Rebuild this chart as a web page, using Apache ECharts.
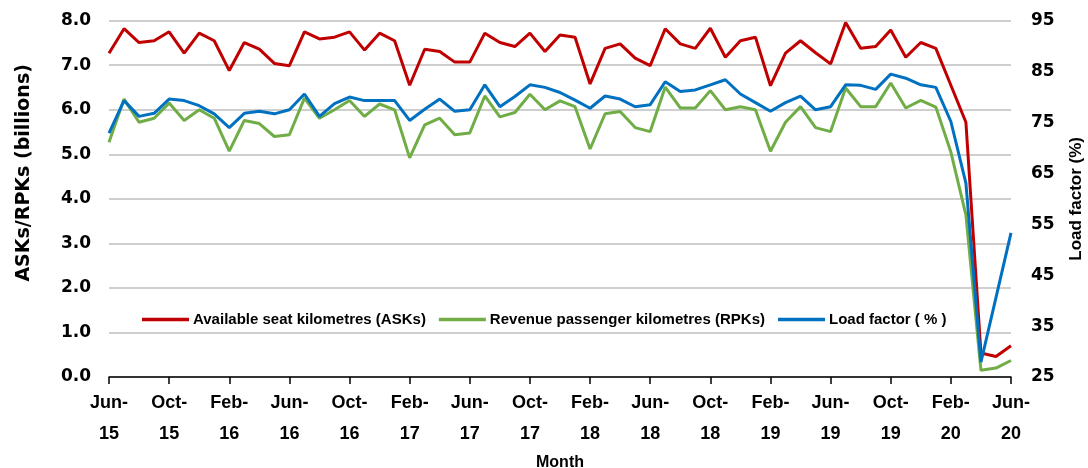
<!DOCTYPE html>
<html>
<head>
<meta charset="utf-8">
<script src="https://cdn.jsdelivr.net/npm/echarts@6/dist/echarts.min.js"></script>
<style>
html,body{margin:0;padding:0;background:#fff;}
#chart{width:1088px;height:468px;}
</style>
</head>
<body>
<div id="chart"></div>
<script>
const months = [
 "Jun-15","Jul-15","Aug-15","Sep-15","Oct-15","Nov-15","Dec-15","Jan-16",
 "Feb-16","Mar-16","Apr-16","May-16","Jun-16","Jul-16","Aug-16","Sep-16",
 "Oct-16","Nov-16","Dec-16","Jan-17","Feb-17","Mar-17","Apr-17","May-17",
 "Jun-17","Jul-17","Aug-17","Sep-17","Oct-17","Nov-17","Dec-17","Jan-18",
 "Feb-18","Mar-18","Apr-18","May-18","Jun-18","Jul-18","Aug-18","Sep-18",
 "Oct-18","Nov-18","Dec-18","Jan-19","Feb-19","Mar-19","Apr-19","May-19",
 "Jun-19","Jul-19","Aug-19","Sep-19","Oct-19","Nov-19","Dec-19","Jan-20",
 "Feb-20","Mar-20","Apr-20","May-20","Jun-20"
];
const asks = [
 7.27,7.82,7.51,7.55,7.75,7.27,7.72,7.55,6.88,7.51,7.36,7.04,6.99,7.75,7.59,7.63,
 7.75,7.34,7.72,7.55,6.55,7.36,7.31,7.07,7.07,7.72,7.51,7.42,7.72,7.31,7.68,7.63,
 6.58,7.38,7.48,7.16,6.99,7.82,7.48,7.38,7.83,7.18,7.55,7.63,6.54,7.27,7.55,7.28,
 7.03,7.96,7.38,7.42,7.79,7.18,7.51,7.38,6.55,5.72,0.54,0.46,0.70
];
const rpks = [
 5.27,6.24,5.72,5.81,6.15,5.76,6.00,5.81,5.07,5.76,5.69,5.40,5.44,6.26,5.81,6.00,
 6.21,5.85,6.13,6.00,4.92,5.66,5.81,5.44,5.48,6.31,5.84,5.94,6.35,6.00,6.20,6.07,
 5.12,5.91,5.96,5.60,5.51,6.51,6.04,6.04,6.43,6.00,6.07,6.00,5.07,5.72,6.07,5.60,
 5.51,6.49,6.07,6.07,6.60,6.04,6.21,6.06,5.05,3.64,0.15,0.20,0.37
];
const loadFactor = [
 72.9,79.3,76.2,76.8,79.6,79.3,78.3,76.7,74.0,76.8,77.2,76.7,77.5,80.6,76.2,78.7,
 80.0,79.3,79.3,79.3,75.4,77.6,79.6,77.2,77.5,82.4,78.1,80.1,82.4,81.9,80.9,79.4,
 77.8,80.2,79.6,78.1,78.5,83.0,81.1,81.4,82.4,83.4,80.6,78.9,77.2,78.9,80.2,77.5,
 78.1,82.4,82.3,81.5,84.5,83.7,82.4,81.9,75.2,63.1,27.9,40.6,53.3
];
const seriesNames = ["Available seat kilometres (ASKs)","Revenue passenger kilometres (RPKs)","Load factor ( % )"];
const seriesColors = ["#C00000","#70AD47","#0070C0"];

const chart = echarts.init(document.getElementById('chart'), null, {renderer:'canvas'});
const labelFont = {fontFamily:'Arial, "Liberation Sans", sans-serif', fontWeight:'bold', color:'#000'};
chart.setOption({
  animation:false,
  backgroundColor:'#fff',
  grid:{left:109, right:77, top:20.7, bottom:91, containLabel:false, outerBoundsMode:'none'},
  legend:{
    data:seriesNames,
    left:137, top:307,
    icon:'rect', itemWidth:47, itemHeight:3.5, itemGap:13,
    textStyle:Object.assign({fontSize:15, padding:[0,0,0,-1]}, labelFont)
  },
  xAxis:{
    type:'category', data:months, boundaryGap:false,
    name:'Month', nameLocation:'middle', nameGap:76,
    nameTextStyle:Object.assign({fontSize:16}, labelFont),
    axisLine:{lineStyle:{color:'#000', width:1.5}},
    axisTick:{interval:3, length:7, lineStyle:{color:'#000', width:1.5}},
    axisLabel:Object.assign({interval:3, fontSize:18, lineHeight:31, margin:11,
      formatter:v => v.replace('-', '-\n')}, labelFont),
    splitLine:{show:false}
  },
  yAxis:[{
    type:'value', min:0, max:8, interval:1,
    name:'ASKs/RPKs (billions)', nameLocation:'middle', nameGap:75,
    nameTextStyle:{fontFamily:'"DejaVu Sans", sans-serif', fontWeight:'bold', color:'#000', fontSize:19, padding:[0,0,0,52]},
    axisLine:{show:false}, axisTick:{show:false},
    axisLabel:{fontFamily:'"DejaVu Sans", sans-serif', fontWeight:'bold', color:'#000', fontSize:17, margin:18,
      formatter:v => v.toFixed(1)},
    splitLine:{lineStyle:{color:'#BFBFBF', width:1.5}}
  },{
    type:'value', min:25, max:95, interval:10, position:'right',
    name:'Load factor (%)', nameLocation:'middle', nameGap:57,
    nameTextStyle:Object.assign({fontSize:17}, labelFont),
    axisLine:{show:false}, axisTick:{show:false},
    axisLabel:{fontFamily:'"DejaVu Sans", sans-serif', fontWeight:'bold', color:'#000', fontSize:17, margin:20},
    splitLine:{show:false}
  }],
  series:[
    {name:seriesNames[0], type:'line', data:asks, yAxisIndex:0, showSymbol:false, symbol:'none',
     lineStyle:{color:seriesColors[0], width:3}, itemStyle:{color:seriesColors[0]}},
    {name:seriesNames[1], type:'line', data:rpks, yAxisIndex:0, showSymbol:false, symbol:'none',
     lineStyle:{color:seriesColors[1], width:3}, itemStyle:{color:seriesColors[1]}},
    {name:seriesNames[2], type:'line', data:loadFactor, yAxisIndex:1, showSymbol:false, symbol:'none',
     lineStyle:{color:seriesColors[2], width:3}, itemStyle:{color:seriesColors[2]}}
  ]
});
</script>
</body>
</html>
